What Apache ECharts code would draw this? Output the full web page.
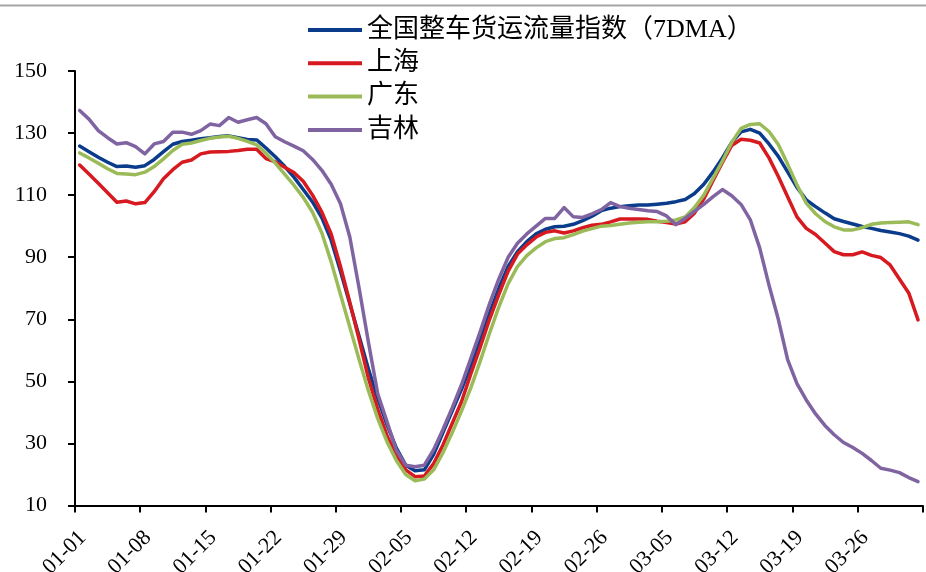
<!DOCTYPE html>
<html>
<head>
<meta charset="utf-8">
<script src="https://cdn.jsdelivr.net/npm/echarts@6/dist/echarts.min.js"></script>
<style>
html,body{margin:0;padding:0;background:#fff;}
#chart{width:926px;height:572px;}
</style>
</head>
<body>
<div id="chart"></div>
<script>
// Tick labels every 7 days (axis runs 01-01 .. 04-02; the final boundary tick is unlabeled)
const tickLabels = ['01-01','01-08','01-15','01-22','01-29','02-05','02-12','02-19','02-26','03-05','03-12','03-19','03-26',''];

// Daily categories 01-01 .. 04-01 (2022)
const dates = (function(){
  const out = [];
  const mdays = [31,28,31,30];
  let m = 1, d = 1;
  for (let i = 0; i < 91; i++) {
    out.push(String(m).padStart(2,'0') + '-' + String(d).padStart(2,'0'));
    d++; if (d > mdays[m-1]) { d = 1; m++; }
  }
  return out;
})();

const seriesNames = ['全国整车货运流量指数（7DMA）','上海','广东','吉林'];

const national = [125.8,124,122.2,120.6,119.2,119.4,119,119.5,121.5,124,
126.4,127.3,127.7,128.2,128.5,128.9,129.1,128.5,127.9,127.8,
125.2,122.4,119.3,115.8,111.8,107.8,102.7,95.5,85.5,75,
64.5,54,44.5,36,28.5,23,21.2,21.5,26.5,33.5,
40.5,47.5,55,63.5,72,80,87,91.8,95,97.5,
99,99.8,100,100.6,101.8,103.2,105,105.8,106.3,106.6,
106.8,106.8,107.1,107.4,107.9,108.6,110.5,113.5,117.5,122,
127,130.4,131.2,130,126.5,122.5,117.5,112.5,108.5,106.3,
104.3,102.4,101.5,100.7,99.9,99.3,98.6,98.1,97.6,96.8,95.5];

const shanghai = [119.7,116.8,113.8,110.8,107.7,108.1,107.2,107.6,111.1,115.3,
118.2,120.6,121.3,123.3,123.9,124,124.1,124.4,124.8,124.8,
121.8,120.7,119,117.3,114.5,110,104.5,97.5,87,75.5,
63.5,51,41,32.5,26,21.5,19.3,19.5,23.5,29.5,
36.5,43.5,52.5,61,70,78,85.5,91,94,96.5,
98,98.5,97.8,98.5,99.5,100.3,100.6,101.4,102.3,102.3,
102.3,102.2,101.6,101.2,100.7,101.4,104.2,108.8,114.7,120.5,
126,128,127.7,126.8,122,116,109.5,103,99.3,97.3,
94.6,91.8,90.8,90.8,91.7,90.6,89.9,87.5,83,78.5,69.8];

const guangdong = [123.6,122,120.3,118.5,117,116.8,116.6,117.4,119.2,121.7,
124.4,126.4,126.8,127.6,128.3,128.7,129,128.3,127.3,126.2,
123.5,120.3,116.8,113.2,109.3,104.5,97.8,88.5,78,67.5,
57,47,38,30.5,24.5,20,18,18.5,21.5,27,
33.5,40.5,48,56.5,65.5,74,81.5,87,90.5,93,
95,96,96.3,97.3,98.4,99.2,100,100.2,100.6,101,
101.3,101.4,101.4,101.6,102,103,106,110,115.5,121,
127,131.5,132.8,133,130.5,126.3,120,113.3,107.4,104,
101.5,99.8,98.8,98.8,99.5,100.6,101,101.2,101.3,101.4,100.5];

const jilin = [137.3,134.5,130.8,128.5,126.5,126.9,125.6,123.3,126.5,127.3,
130.3,130.3,129.6,130.8,132.9,132.4,135,133.5,134.3,135,
133,128.8,127.2,125.8,124.3,121.5,118,113.5,107.2,96.5,
80,62.6,46,37,27.8,23,22.5,23,28,34.5,
41.5,49,57.5,66,75,83,90,94.5,97.5,100,
102.5,102.5,106,103,102.8,104,105.3,107.6,106.3,105.8,
105.4,105,104.7,103.3,100.5,102.5,104.8,107,109.5,111.8,
109.8,107,102,93,81,70,57,49.3,44,39.5,
35.8,32.8,30.3,28.7,26.8,24.5,22,21.4,20.6,19,17.7];

const colors = ['#0B3C8C','#D71920','#9BBB59','#8064A2'];

// Each daily value sits in the middle of its day on a day-count x axis
function toPoints(arr){ return arr.map((v,i)=>[i+0.5, v, dates[i]]); }

const chart = echarts.init(document.getElementById('chart'), null, {renderer:'canvas'});
const serif = "'Times New Roman','Liberation Serif',serif";

chart.setOption({
  animation:false,
  backgroundColor:'#ffffff',
  color: colors,
  grid:{left:75, right:3.3, top:71, bottom:66.5, containLabel:false, outerBoundsMode:'none'},
  legend:{
    orient:'vertical',
    left:308, top:16,
    padding:0,
    itemWidth:54, itemHeight:4, itemGap:5.3,
    icon:'rect',
    textStyle:{fontFamily:"'Liberation Serif','Noto Sans CJK SC',serif", fontSize:26, color:'#000', lineHeight:28},
    data: seriesNames
  },
  xAxis:{
    type:'value', min:0, max:91, interval:7,
    axisLine:{show:true, lineStyle:{color:'#000', width:2}},
    axisTick:{show:true, inside:false, length:7, lineStyle:{color:'#000', width:2}},
    splitLine:{show:false},
    axisLabel:{
      rotate:45, margin:21, verticalAlign:'top', fontFamily:serif, fontSize:22, color:'#000',
      formatter:function(v){ return tickLabels[Math.round(v/7)] || ''; }
    }
  },
  yAxis:{
    type:'value', min:10, max:150, interval:20,
    axisLine:{show:true, lineStyle:{color:'#000', width:2}},
    axisTick:{show:true, inside:false, length:7, lineStyle:{color:'#000', width:2}},
    splitLine:{show:false},
    axisLabel:{margin:28, fontFamily:serif, fontSize:22, color:'#000'}
  },
  graphic:[
    {type:'line', shape:{x1:0, y1:5.5, x2:926, y2:5.5}, style:{stroke:'#A6A6A6', lineWidth:2}, silent:true}
  ],
  series:[national, shanghai, guangdong, jilin].map((arr,k)=>({
    name: seriesNames[k],
    type:'line',
    data: toPoints(arr),
    showSymbol:false,
    symbol:'none',
    lineStyle:{width:3.5, color:colors[k], cap:'round', join:'round'},
    itemStyle:{color:colors[k]},
    emphasis:{disabled:true}
  }))
});
</script>
</body>
</html>
